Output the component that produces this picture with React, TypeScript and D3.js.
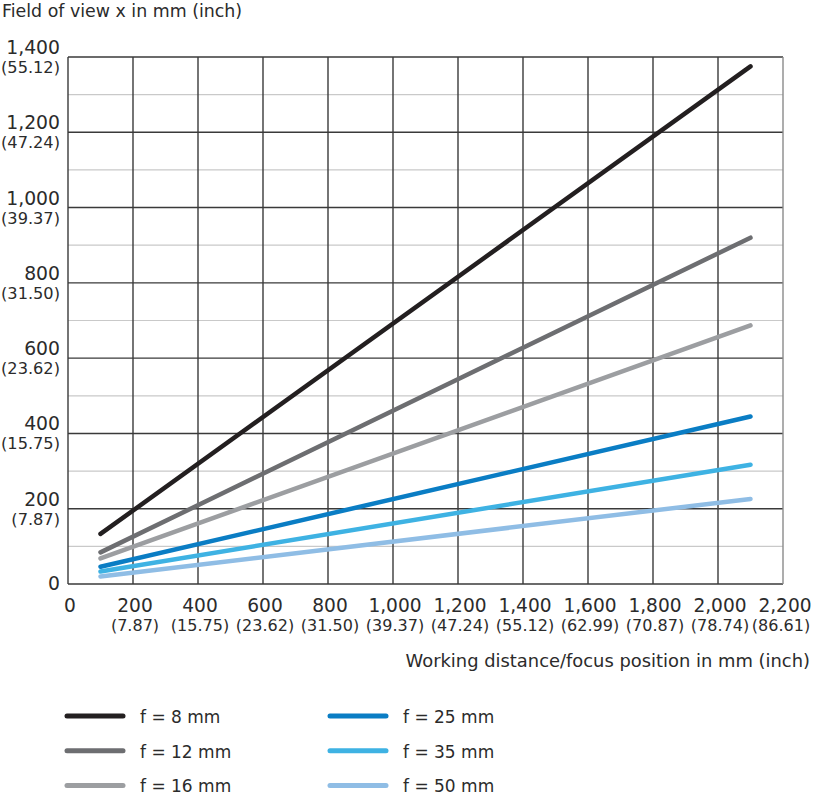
import React from "react";
import * as d3 from "d3";

const distances = [100, 2100];
const seriesNames = ["f = 8 mm", "f = 12 mm", "f = 16 mm", "f = 25 mm", "f = 35 mm", "f = 50 mm"];
const f8 = [133, 1375];
const f12 = [84, 920];
const f16 = [68, 687];
const f25 = [46, 445];
const f35 = [33, 317];
const f50 = [20, 226];
const seriesValues = [f8, f12, f16, f25, f35, f50];
const seriesColors = ["#231f20", "#6d6e71", "#9c9ea1", "#0a7dc4", "#3eb2e3", "#8fbde5"];

const xTicks = [0, 200, 400, 600, 800, 1000, 1200, 1400, 1600, 1800, 2000, 2200];
const xTickLabels = ["0", "200", "400", "600", "800", "1,000", "1,200", "1,400", "1,600", "1,800", "2,000", "2,200"];
const xInchLabels = ["", "(7.87)", "(15.75)", "(23.62)", "(31.50)", "(39.37)", "(47.24)", "(55.12)", "(62.99)", "(70.87)", "(78.74)", "(86.61)"];
const yTicks = [0, 200, 400, 600, 800, 1000, 1200, 1400];
const yTickLabels = ["0", "200", "400", "600", "800", "1,000", "1,200", "1,400"];
const yInchLabels = ["", "(7.87)", "(15.75)", "(23.62)", "(31.50)", "(39.37)", "(47.24)", "(55.12)"];
const yMinor = [100, 300, 500, 700, 900, 1100, 1300];

const FONT = "'DejaVu Sans', sans-serif";
const TXT = "#2b2b2b";

export default function App() {
  const x = d3.scaleLinear().domain([0, 2200]).range([68, 783]);
  const y = d3.scaleLinear().domain([0, 1400]).range([584, 57]);
  const line = d3
    .line<number>()
    .x((_, i) => x(distances[i]))
    .y((v) => y(v));

  return (
    <svg
      width={813}
      height={800}
      style={{ position: "absolute", left: 0, top: 0, background: "#fff" }}
      fontFamily={FONT}
    >
      <text x={2} y={17} fontSize={17.4} fill={TXT}>
        Field of view x in mm (inch)
      </text>

      {yMinor.map((v) => (
        <line key={"m" + v} x1={x(0)} x2={x(2200)} y1={y(v)} y2={y(v)} stroke="#c9c9c9" strokeWidth={1.2} />
      ))}
      {yTicks.map((v) => (
        <line key={"y" + v} x1={x(0)} x2={x(2200)} y1={y(v)} y2={y(v)} stroke="#3a3a3a" strokeWidth={1.4} />
      ))}
      {xTicks.map((v) => (
        <line
          key={"x" + v}
          x1={x(v)}
          x2={x(v)}
          y1={y(0)}
          y2={y(1400)}
          stroke={v === 2200 ? "#8a8a8a" : "#3a3a3a"}
          strokeWidth={1.4}
        />
      ))}

      {seriesValues.map((vals, i) => (
        <path
          key={seriesNames[i]}
          d={line(vals) || ""}
          fill="none"
          stroke={seriesColors[i]}
          strokeWidth={4.5}
          strokeLinecap="round"
        />
      ))}

      {yTicks.map((v, i) => (
        <g key={"yl" + v}>
          <text x={60} y={v === 0 ? y(v) + 6 : y(v) - 3} fontSize={18.8} textAnchor="end" fill={TXT}>
            {yTickLabels[i]}
          </text>
          {yInchLabels[i] && (
            <text x={60} y={y(v) + 16} fontSize={16.2} textAnchor="end" fill={TXT}>
              {yInchLabels[i]}
            </text>
          )}
        </g>
      ))}

      {xTicks.map((v, i) => (
        <g key={"xl" + v}>
          <text x={x(v) + 2} y={612} fontSize={18.6} textAnchor="middle" fill={TXT}>
            {xTickLabels[i]}
          </text>
          {xInchLabels[i] && (
            <text x={Math.min(x(v) + 2, 781)} y={631} fontSize={16} textAnchor="middle" fill={TXT}>
              {xInchLabels[i]}
            </text>
          )}
        </g>
      ))}

      <text x={810} y={667} fontSize={17.9} textAnchor="end" fill={TXT}>
        Working distance/focus position in mm (inch)
      </text>

      {seriesNames.map((name, i) => {
        const col = Math.floor(i / 3);
        const row = i % 3;
        const lx = col === 0 ? 67 : 330;
        const ly = 716 + row * 34.7;
        return (
          <g key={"lg" + name}>
            <line x1={lx} x2={lx + 56} y1={ly} y2={ly} stroke={seriesColors[i]} strokeWidth={5} strokeLinecap="round" />
            <text x={lx + 73} y={ly + 7} fontSize={17} fill={TXT}>
              {name}
            </text>
          </g>
        );
      })}
    </svg>
  );
}
